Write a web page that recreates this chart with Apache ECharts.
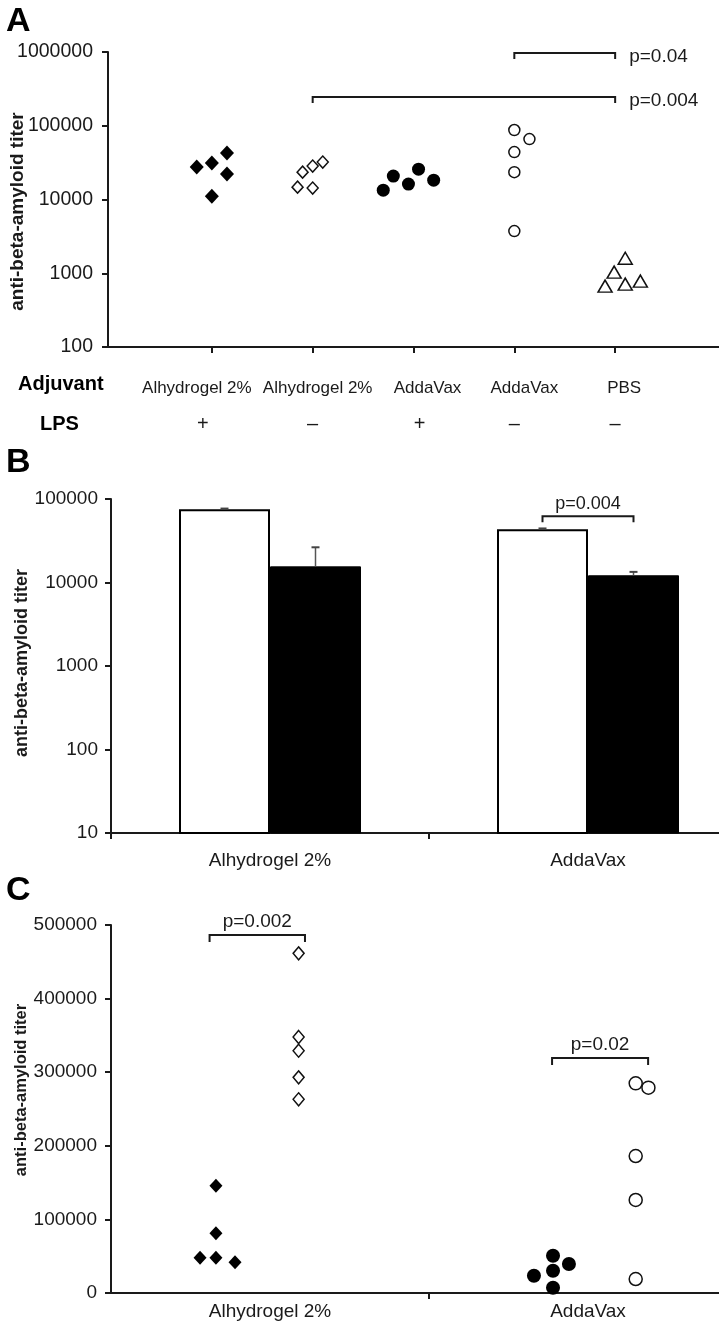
<!DOCTYPE html>
<html><head><meta charset="utf-8">
<script src="https://cdn.jsdelivr.net/npm/echarts@6/dist/echarts.min.js"></script>
<style>html,body{margin:0;padding:0;background:#fff}#c{width:719px;height:1326px}</style>
</head><body><div id="c"></div><script>
// ---------- Panel A data ----------
const adjuvantLabels = ['Alhydrogel 2%', 'Alhydrogel 2%', 'AddaVax', 'AddaVax', 'PBS'];
const lpsLabels = ['+', '–', '+', '–', '–'];
const aCategoryPos = [1, 2, 3, 4, 5];
const aAlhLpsX = [0.85, 1.0, 1.15, 1.15, 1.0];
const aAlhLpsY = [27500, 31200, 42600, 22100, 11100];
const aAlhX = [1.85, 1.9, 2.0, 2.1, 2.0];
const aAlhY = [14700, 23500, 28400, 32200, 14300];
const aAddLpsX = [2.7, 2.8, 2.95, 3.05, 3.2];
const aAddLpsY = [13400, 20800, 16200, 25800, 18300];
const aAddX = [4.0, 4.15, 4.0, 4.0, 4.0];
const aAddY = [87500, 66000, 44000, 23500, 3730];
const aPbsX = [4.9, 4.99, 5.1, 5.1, 5.25];
const aPbsY = [668, 1035, 1600, 711, 782];
const aBrackets = [
  {x1: 4, x2: 5, y: 970000, label: 'p=0.04'},
  {x1: 2, x2: 5, y: 245000, label: 'p=0.004'}
];
// ---------- Panel B data ----------
const bCategories = ['Alhydrogel 2%', 'AddaVax'];
const bWhite = [75400, 43400];
const bWhiteErrTop = [76800, 44400];
const bBlack = [15600, 12200];
const bBlackErrTop = [26400, 13400];
const bBracket = {cat: 1, y: 62100, label: 'p=0.004'};
// ---------- Panel C data ----------
const cCategories = ['Alhydrogel 2%', 'AddaVax'];
const cAlhFilledX = [-0.17, -0.17, -0.22, -0.17, -0.11];
const cAlhFilledY = [145800, 81100, 48000, 48000, 41700];
const cAlhOpenX = [0.09, 0.09, 0.09, 0.09, 0.09];
const cAlhOpenY = [461500, 347800, 329200, 293000, 263200];
const cAddFilledX = [0.83, 0.89, 0.89, 0.94, 0.89];
const cAddFilledY = [23500, 50700, 30300, 39400, 7200];
const cAddOpenX = [1.15, 1.19, 1.15, 1.15, 1.15];
const cAddOpenY = [284900, 279000, 186100, 126400, 19000];
const cBrackets = [
  {x1: -0.19, x2: 0.11, y: 486400, label: 'p=0.002'},
  {x1: 0.887, x2: 1.189, y: 319300, label: 'p=0.02'}
];

// ---------- styling / layout constants ----------
const FONT = '"Liberation Sans", Arial, Helvetica, sans-serif';
const INK = '#1a1a1a';
const BAR_W = 91;
const ADJ_DX = [-15, 5, 14, 10, 9];   // small horizontal nudges of the row labels
const LPS_DX = [-9, 0, 6, 0, 0];
const zip = (xs, ys) => xs.map((x, i) => [x, ys[i]]);

const chart = echarts.init(document.getElementById('c'), null, {renderer: 'canvas'});

function yAxisBase(grid, extra) {
  return Object.assign({
    gridIndex: grid,
    axisLine: {show: true, onZero: false, lineStyle: {color: INK, width: 2}},
    axisTick: {show: true, length: 6, lineStyle: {color: INK, width: 2}},
    splitLine: {show: false},
    nameLocation: 'middle', nameRotate: 90, nameMoveOverlap: false
  }, extra);
}
function tickLabel(size, margin) {
  return {color: INK, fontFamily: FONT, fontSize: size, margin: margin, formatter: v => String(Math.round(v))};
}
function nameStyle(size, pad) {
  return {fontFamily: FONT, fontWeight: 'bold', fontSize: size, color: INK, padding: pad};
}

function scatter(xi, yi, data, symbol, size, filled) {
  return {
    type: 'scatter', xAxisIndex: xi, yAxisIndex: yi, data: data,
    symbol: symbol, symbolSize: size, silent: true,
    itemStyle: filled ? {color: '#000', borderColor: '#000', borderWidth: 0, opacity: 1}
                      : {color: '#fff', borderColor: '#111', borderWidth: 1.5, opacity: 1}
  };
}

function bracketSeries(xi, yi, items, labelSide, fontSize, drop) {
  return {
    type: 'custom', xAxisIndex: xi, yAxisIndex: yi, silent: true, clip: false, z: 5,
    data: items.map(b => [b.x1, b.x2, b.y]),
    renderItem: function (params, api) {
      const b = items[params.dataIndex];
      const p1 = api.coord([api.value(0), api.value(2)]);
      const p2 = api.coord([api.value(1), api.value(2)]);
      const line = {type: 'polyline', shape: {points: [
        [p1[0], p1[1] + drop], [p1[0], p1[1]], [p2[0], p2[1]], [p2[0], p2[1] + drop]]},
        style: {stroke: INK, lineWidth: 2, fill: null}};
      const text = labelSide === 'right'
        ? {type: 'text', x: p2[0] + 14, y: p2[1] + 4,
           style: {text: b.label, fill: INK, font: fontSize + 'px ' + FONT, textAlign: 'left', textVerticalAlign: 'middle'}}
        : {type: 'text', x: (p1[0] + p2[0]) / 2, y: p1[1] - 4,
           style: {text: b.label, fill: INK, font: fontSize + 'px ' + FONT, textAlign: 'center', textVerticalAlign: 'bottom'}};
      return {type: 'group', children: [line, text]};
    }
  };
}

// Row labels (Adjuvant / LPS) under panel A, placed at the category positions of the axis
const rowLabelSeries = {
  type: 'custom', xAxisIndex: 0, yAxisIndex: 0, silent: true, clip: false,
  data: aCategoryPos.map((p, i) => [p, 100, i]),
  renderItem: function (params, api) {
    const i = api.value(2);
    const c = api.coord([api.value(0), api.value(1)]);
    return {type: 'group', children: [
      {type: 'text', x: c[0] + ADJ_DX[i], y: c[1] + 41,
        style: {text: adjuvantLabels[i], fill: INK, font: '17px ' + FONT, textAlign: 'center', textVerticalAlign: 'middle'}},
      {type: 'text', x: c[0] + LPS_DX[i], y: c[1] + 77,
        style: {text: lpsLabels[i], fill: INK, font: '20px ' + FONT, textAlign: 'center', textVerticalAlign: 'middle'}}
    ]};
  }
};

const option = {
  animation: false,
  backgroundColor: '#fff',
  textStyle: {fontFamily: FONT},
  grid: [
    {left: 108, top: 52, width: 611, height: 295, outerBoundsMode: 'none', containLabel: false},
    {left: 111, top: 499, width: 636, height: 334, outerBoundsMode: 'none', containLabel: false},
    {left: 111, top: 925, width: 636, height: 368, outerBoundsMode: 'none', containLabel: false}
  ],
  xAxis: [
    { // A
      type: 'value', gridIndex: 0, min: -0.03, max: 6.03, position: 'bottom',
      axisLine: {show: true, onZero: false, lineStyle: {color: INK, width: 2}},
      axisTick: {show: true, length: 6, customValues: aCategoryPos, lineStyle: {color: INK, width: 2}},
      axisLabel: {show: false},
      splitLine: {show: false}
    },
    { // B
      type: 'category', gridIndex: 1, data: bCategories,
      axisLine: {show: true, onZero: false, lineStyle: {color: INK, width: 2}},
      axisTick: {show: true, length: 6, lineStyle: {color: INK, width: 2}},
      axisLabel: {color: INK, fontFamily: FONT, fontSize: 19, margin: 18}
    },
    { // C
      type: 'value', gridIndex: 2, min: -0.5, max: 1.5,
      axisLine: {show: true, onZero: false, lineStyle: {color: INK, width: 2}},
      axisTick: {show: true, length: 6, customValues: [0.5], lineStyle: {color: INK, width: 2}},
      axisLabel: {show: true, customValues: [0, 1], margin: 9, color: INK, fontFamily: FONT, fontSize: 19,
        formatter: v => cCategories[Math.round(v)] || ''},
      splitLine: {show: false}
    }
  ],
  yAxis: [
    yAxisBase(0, {type: 'log', logBase: 10, min: 100, max: 1000000, interval: 1,
      name: 'anti-beta-amyloid titer', nameGap: 81, nameTextStyle: nameStyle(19, [0, 24, 0, 0]),
      axisLabel: tickLabel(19.5, 15)}),
    yAxisBase(1, {type: 'log', logBase: 10, min: 10, max: 100000, interval: 1,
      name: 'anti-beta-amyloid titer', nameGap: 80, nameTextStyle: nameStyle(18, [0, 0, 0, 6]),
      axisLabel: tickLabel(19, 13)}),
    yAxisBase(2, {type: 'value', min: 0, max: 500000, interval: 100000,
      name: 'anti-beta-amyloid titer', nameGap: 81, nameTextStyle: nameStyle(16.5, [0, 0, 0, 38]),
      axisLabel: tickLabel(19, 14)})
  ],
  graphic: [
    {type: 'text', left: 6, top: 5, style: {text: 'A', font: 'bold 34px ' + FONT, fill: '#000'}},
    {type: 'text', left: 6, top: 446, style: {text: 'B', font: 'bold 34px ' + FONT, fill: '#000'}},
    {type: 'text', left: 6, top: 874, style: {text: 'C', font: 'bold 34px ' + FONT, fill: '#000'}},
    {type: 'text', left: 18, top: 374, style: {text: 'Adjuvant', font: 'bold 20px ' + FONT, fill: '#000'}},
    {type: 'text', left: 40, top: 414, style: {text: 'LPS', font: 'bold 20px ' + FONT, fill: '#000'}}
  ],
  series: [
    // Panel A
    scatter(0, 0, zip(aAlhLpsX, aAlhLpsY), 'diamond', [14, 15], true),
    scatter(0, 0, zip(aAlhX, aAlhY), 'diamond', [11, 12], false),
    scatter(0, 0, zip(aAddLpsX, aAddLpsY), 'circle', 13, true),
    scatter(0, 0, zip(aAddX, aAddY), 'circle', 11, false),
    scatter(0, 0, zip(aPbsX, aPbsY), 'triangle', [14, 12], false),
    bracketSeries(0, 0, aBrackets, 'right', 19, 6),
    rowLabelSeries,
    // Panel B
    {type: 'bar', xAxisIndex: 1, yAxisIndex: 1, data: bWhite, barWidth: BAR_W, barGap: '0%', silent: true,
      itemStyle: {color: '#fff', borderColor: '#000', borderWidth: 2}},
    {type: 'bar', xAxisIndex: 1, yAxisIndex: 1, data: bBlack, barWidth: BAR_W, barGap: '0%', silent: true,
      itemStyle: {color: '#000', borderColor: '#000', borderWidth: 1}},
    {type: 'custom', xAxisIndex: 1, yAxisIndex: 1, silent: true, z: 4,
      data: bCategories.flatMap((c, i) => [[i, -1, bWhite[i], bWhiteErrTop[i]], [i, 1, bBlack[i], bBlackErrTop[i]]]),
      renderItem: function (params, api) {
        const side = api.value(1);
        const base = api.coord([api.value(0), api.value(2)]);
        const top = api.coord([api.value(0), api.value(3)]);
        const x = base[0] + side * BAR_W / 2;
        return {type: 'group', children: [
          {type: 'line', shape: {x1: x, y1: base[1], x2: x, y2: top[1]}, style: {stroke: '#555', lineWidth: 1.5}},
          {type: 'line', shape: {x1: x - 4, y1: top[1], x2: x + 4, y2: top[1]}, style: {stroke: '#444', lineWidth: 2}}
        ]};
      }},
    {type: 'custom', xAxisIndex: 1, yAxisIndex: 1, silent: true, clip: false, z: 5,
      data: [[bBracket.cat, bBracket.y]],
      renderItem: function (params, api) {
        const c = api.coord([api.value(0), api.value(1)]);
        const x1 = c[0] - BAR_W / 2, x2 = c[0] + BAR_W / 2, y = c[1];
        return {type: 'group', children: [
          {type: 'polyline', shape: {points: [[x1, y + 6], [x1, y], [x2, y], [x2, y + 6]]}, style: {stroke: INK, lineWidth: 2, fill: null}},
          {type: 'text', x: c[0], y: y - 3, style: {text: bBracket.label, fill: INK, font: '18px ' + FONT, textAlign: 'center', textVerticalAlign: 'bottom'}}
        ]};
      }},
    // Panel C
    scatter(2, 2, zip(cAlhFilledX, cAlhFilledY), 'diamond', [13, 14], true),
    scatter(2, 2, zip(cAlhOpenX, cAlhOpenY), 'diamond', [11, 13], false),
    scatter(2, 2, zip(cAddFilledX, cAddFilledY), 'circle', 14, true),
    scatter(2, 2, zip(cAddOpenX, cAddOpenY), 'circle', 13, false),
    bracketSeries(2, 2, cBrackets, 'top', 19, 7)
  ]
};
chart.setOption(option);
</script></body></html>
